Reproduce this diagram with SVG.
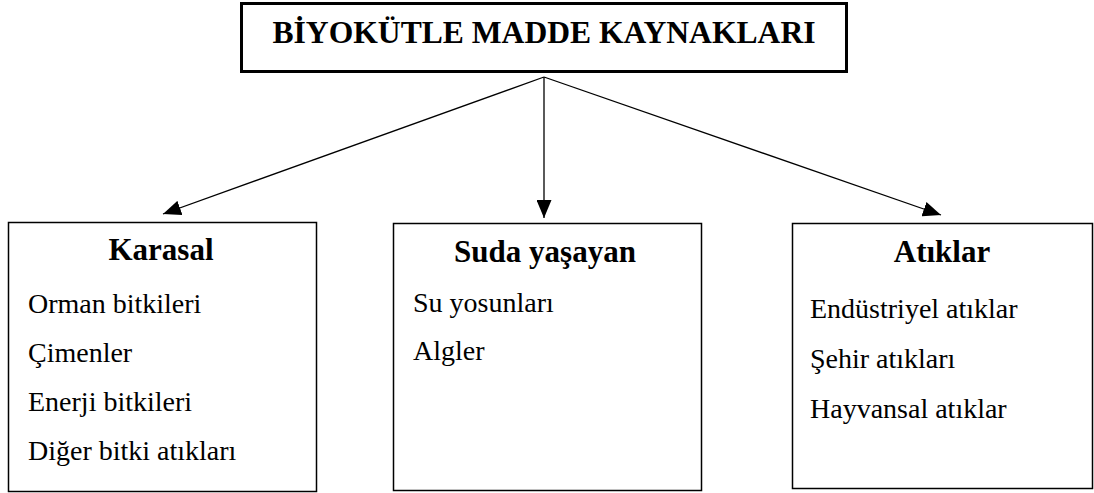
<svg xmlns="http://www.w3.org/2000/svg" width="1094" height="493" viewBox="0 0 1094 493">
<style>
.box{fill:#fff;stroke:#000;stroke-width:1.5}
.title{fill:#fff;stroke:#000;stroke-width:3}
.h{font-family:'Liberation Serif','DejaVu Serif','Times New Roman',Times,serif;font-weight:bold;font-size:31px;fill:#000;text-anchor:middle}
.t{font-family:'Liberation Serif','DejaVu Serif','Times New Roman',Times,serif;font-size:28px;fill:#000}
.c{stroke:#000;stroke-width:1.3;fill:none;marker-end:url(#ah)}
</style>
<defs>
<marker id="ah" markerWidth="18" markerHeight="15" refX="18" refY="7.5" orient="auto" markerUnits="userSpaceOnUse">
<path d="M0,0 L18,7.5 L0,15 Z" fill="#000"/>
</marker>
</defs>
<rect width="1094" height="493" fill="#fff"/>
<g id="connectors">
<line class="c" x1="544" y1="77" x2="163" y2="214"/>
<line class="c" x1="544" y1="77" x2="544" y2="218"/>
<line class="c" x1="544" y1="77" x2="941" y2="215"/>
</g>
<g id="root">
<rect class="title" x="241.5" y="3.5" width="605" height="68"/>
<text class="h" x="544" y="43" style="font-size:31.6px">BİYOKÜTLE MADDE KAYNAKLARI</text>
</g>
<g id="karasal">
<rect class="box" x="8.5" y="222.5" width="308" height="269"/>
<text class="h" x="161" y="260">Karasal</text>
<text class="t" x="28" y="313">Orman bitkileri</text>
<text class="t" x="28" y="362">Çimenler</text>
<text class="t" x="28" y="411">Enerji bitkileri</text>
<text class="t" x="28" y="460">Diğer bitki atıkları</text>
</g>
<g id="suda">
<rect class="box" x="393.5" y="223.5" width="308" height="267"/>
<text class="h" x="545" y="262">Suda yaşayan</text>
<text class="t" x="413" y="312">Su yosunları</text>
<text class="t" x="413" y="360">Algler</text>
</g>
<g id="atiklar">
<rect class="box" x="792.5" y="223.5" width="300" height="265"/>
<text class="h" x="942" y="262">Atıklar</text>
<text class="t" x="810" y="318">Endüstriyel atıklar</text>
<text class="t" x="810" y="368">Şehir atıkları</text>
<text class="t" x="810" y="418">Hayvansal atıklar</text>
</g>
</svg>
